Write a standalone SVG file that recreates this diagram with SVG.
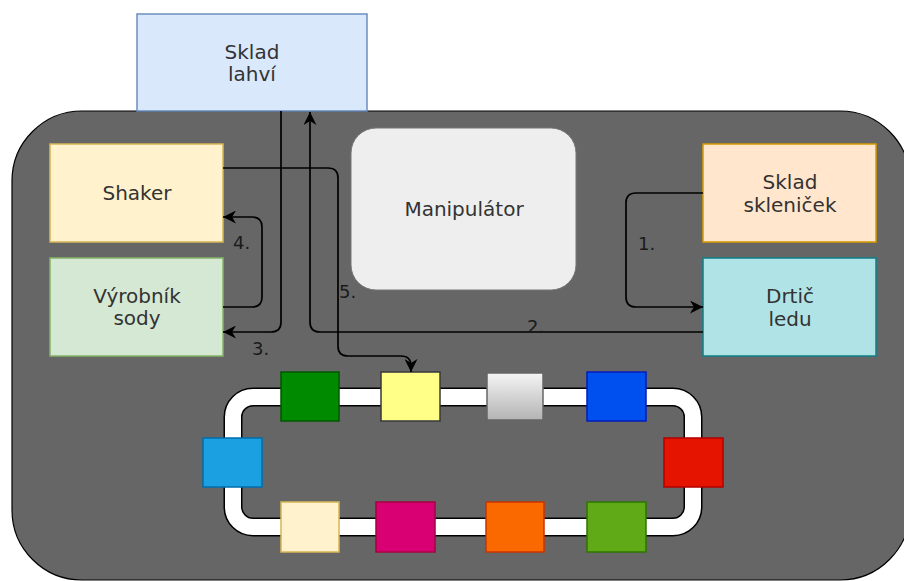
<svg xmlns="http://www.w3.org/2000/svg" width="904" height="581" viewBox="0 0 904 581">
<defs>
<style>
.t{font-family:"DejaVu Sans","Liberation Sans",sans-serif;font-size:20px;fill:#333333;text-anchor:middle}
.lb{font-family:"DejaVu Sans","Liberation Sans",sans-serif;font-size:18px;fill:#1a1a1a}
.c{fill:none;stroke:#000;stroke-width:1.7}
.sq{stroke-width:1.5}
</style>
<marker id="ar" viewBox="0 0 10 10" refX="10" refY="5" markerWidth="15" markerHeight="13" markerUnits="userSpaceOnUse" orient="auto">
<path d="M0,0 L10,5 L0,10 L3,5 z" fill="#000"/>
</marker>
<linearGradient id="gg" x1="0" y1="0" x2="0" y2="1">
<stop offset="0" stop-color="#f5f5f5"/>
<stop offset="1" stop-color="#b3b3b3"/>
</linearGradient>
</defs>
<rect id="container" x="12" y="111" width="898" height="469" rx="70" fill="#666666" stroke="#000" stroke-width="1.2"/>
<g id="track">
<rect x="233" y="397" width="460" height="130" rx="20" fill="none" stroke="#000" stroke-width="19"/>
<rect x="233" y="397" width="460" height="130" rx="20" fill="none" stroke="#fff" stroke-width="16"/>
</g>
<g id="sklad-lahvi"><rect x="137" y="14" width="230" height="97" fill="#dae8fc" stroke="#6c8ebf" stroke-width="1.5"/><text class="t" x="252" y="59">Sklad</text><text class="t" x="252" y="81">lahví</text></g>
<g id="shaker"><rect x="50" y="144" width="173" height="98" fill="#fff2cc" stroke="#d6b656" stroke-width="1.5"/><text class="t" x="137" y="200">Shaker</text></g>
<g id="vyrobnik"><rect x="50" y="258" width="173" height="98" fill="#d5e8d4" stroke="#82b366" stroke-width="1.5"/><text class="t" x="137" y="303">Výrobník</text><text class="t" x="137" y="325">sody</text></g>
<g id="manipulator"><rect x="351" y="128" width="225" height="162" rx="25" fill="#eeeeee" stroke="#777" stroke-width="1"/><text class="t" x="464" y="216">Manipulátor</text></g>
<g id="sklad-sklenicek"><rect x="703" y="144" width="173" height="98" fill="#ffe6cc" stroke="#d79b00" stroke-width="1.5"/><text class="t" x="790" y="189">Sklad</text><text class="t" x="790" y="212">skleniček</text></g>
<g id="drtic"><rect x="703" y="258" width="173" height="98" fill="#b0e3e6" stroke="#0e8088" stroke-width="1.5"/><text class="t" x="790" y="303">Drtič</text><text class="t" x="790" y="326">ledu</text></g>
<g id="slot-1"><rect class="sq" x="281" y="372" width="58" height="49" fill="#008a00" stroke="#005700"/></g>
<g id="slot-2"><rect class="sq" x="381" y="372" width="59" height="49" fill="#ffff88" stroke="#36393d"/></g>
<g id="slot-3"><rect class="sq" x="487" y="373" width="56" height="47" fill="url(#gg)" stroke="#666666"/></g>
<g id="slot-4"><rect class="sq" x="587" y="372" width="59" height="49" fill="#0050ef" stroke="#001dbc"/></g>
<g id="slot-5"><rect class="sq" x="664" y="438" width="59" height="49" fill="#e51400" stroke="#b20000"/></g>
<g id="slot-6"><rect class="sq" x="587" y="502" width="59" height="50" fill="#60a917" stroke="#2d7600"/></g>
<g id="slot-7"><rect class="sq" x="486" y="502" width="58" height="50" fill="#fa6800" stroke="#c73500"/></g>
<g id="slot-8"><rect class="sq" x="376" y="502" width="59" height="50" fill="#d80073" stroke="#a50040"/></g>
<g id="slot-9"><rect class="sq" x="281" y="502" width="58" height="50" fill="#fff2cc" stroke="#d6b656"/></g>
<g id="slot-10"><rect class="sq" x="203" y="438" width="59" height="49" fill="#1ba1e2" stroke="#006eaf"/></g>
<g id="connectors">
<path class="c" d="M703,193 H636 Q626,193 626,203 V297 Q626,307 636,307 H703" marker-end="url(#ar)"/>
<path class="c" d="M703,332 H320 Q310,332 310,322 V112" marker-end="url(#ar)"/>
<path class="c" d="M281,111 V322 Q281,332 271,332 H223" marker-end="url(#ar)"/>
<path class="c" d="M223,307 H252 Q262,307 262,297 V227 Q262,217 252,217 H223" marker-end="url(#ar)"/>
<path class="c" d="M223,168 H328 Q338,168 338,178 V346 Q338,356 348,356 H401 Q411,356 411,366 V372" marker-end="url(#ar)"/>
<text class="lb" x="638" y="250">1.</text>
<text class="lb" x="527" y="333">2.</text>
<text class="lb" x="252" y="355">3.</text>
<text class="lb" x="233" y="249">4.</text>
<text class="lb" x="339" y="298">5.</text>
</g>
</svg>
